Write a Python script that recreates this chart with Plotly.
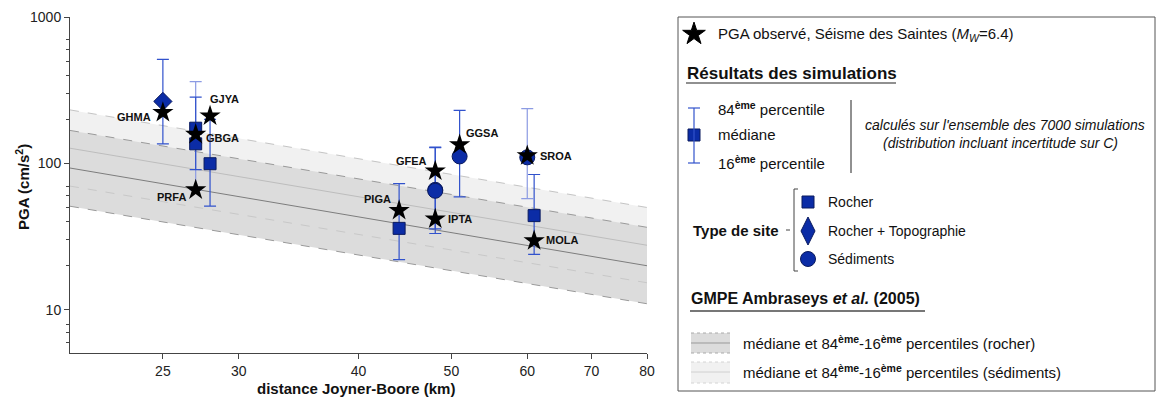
import numpy as np
import plotly.graph_objects as go

W, H = 1158, 398
PL, PR, PT, PB = 70, 647, 17, 353  # plot area in pixels

# ---------------- data ----------------
# GMPE Ambraseys et al. (2005): values read at both ends of the distance range
gmpe_dist = [20, 80]
rock_p84 = [168, 36.6]
rock_med = [93, 20.0]
rock_p16 = [51, 11.0]
sed_p84 = [232, 50.0]
sed_med = [127, 27.6]
sed_p16 = [70, 15.3]

# Observed PGA (Séisme des Saintes)
obs_station = ["GHMA", "GBGA", "PRFA", "GJYA", "PIGA", "GFEA", "IPTA", "GGSA", "SROA", "MOLA"]
obs_dist = [25.0, 27.05, 27.05, 28.0, 44.1, 48.1, 48.1, 51.0, 60.0, 61.0]
obs_pga = [223, 158, 66, 211, 47.8, 88.7, 41.8, 134, 113, 29.7]

# Simulation results (median, 84th, 16th percentiles)
sim_station = ["GHMA", "GBGA", "PRFA", "GJYA", "PIGA", "GFEA", "IPTA", "GGSA", "SROA", "MOLA"]
sim_dist = [25.0, 27.05, 27.05, 28.0, 44.1, 48.1, 48.1, 51.0, 60.0, 61.0]
sim_site = ["RT", "R", "R", "R", "R", "S", "S", "S", "S", "R"]
sim_med = [265, 174, 136, 99.5, 36, 66, 65, 111.6, 110, 44]
sim_p84 = [514, 362, 284, 200, 72.7, 129, 128, 230, 237, 84]
sim_p16 = [136, 66, 90.6, 51, 22, 35.7, 33.2, 59, 57.5, 23.9]
sim_light = [False, True, False, False, False, False, False, False, True, False]

x_ticks = [25, 30, 40, 50, 60, 70, 80]
y_ticks = [10, 100, 1000]
y_minor = [6, 7, 8, 20, 30, 40, 50, 60, 70, 200, 300, 400, 500, 600, 700]

# ---------------- styles ----------------
FONT = "Liberation Sans, Arial, sans-serif"
BLUE_FILL = "#0b2ca6"
BLUE_EDGE = "#0a1a5e"
ERR_DARK = "#3152cc"
ERR_LIGHT = "#8c9be3"
DARK_BAND = "#dcdcdc"
LIGHT_BAND = "#f1f1f1"

fig = go.Figure()

# GMPE sediment band
fig.add_trace(go.Scatter(x=gmpe_dist, y=sed_p84, mode="lines",
                         line=dict(color="#c4c4c4", width=1, dash="dash"), showlegend=False))
fig.add_trace(go.Scatter(x=gmpe_dist, y=sed_p16, mode="lines", fill="tonexty",
                         fillcolor=LIGHT_BAND, line=dict(color="rgba(0,0,0,0)", width=0), showlegend=False))
# GMPE rock band
fig.add_trace(go.Scatter(x=gmpe_dist, y=rock_p84, mode="lines",
                         line=dict(color="#9a9a9a", width=1, dash="dash"), showlegend=False))
fig.add_trace(go.Scatter(x=gmpe_dist, y=rock_p16, mode="lines", fill="tonexty",
                         fillcolor=DARK_BAND, line=dict(color="#9a9a9a", width=1, dash="dash"),
                         showlegend=False))
# sediment lines over rock band
fig.add_trace(go.Scatter(x=gmpe_dist, y=sed_med, mode="lines",
                         line=dict(color="#bdbdbd", width=1), showlegend=False))
fig.add_trace(go.Scatter(x=gmpe_dist, y=sed_p16, mode="lines",
                         line=dict(color="#c8c8c8", width=1, dash="dash"), showlegend=False))
# rock median
fig.add_trace(go.Scatter(x=gmpe_dist, y=rock_med, mode="lines",
                         line=dict(color="#7d7d7d", width=1), showlegend=False))

# error bars (simulations)
for light in (True, False):
    idx = [i for i in range(len(sim_med)) if sim_light[i] == light]
    fig.add_trace(go.Scatter(
        x=[sim_dist[i] for i in idx], y=[sim_med[i] for i in idx], mode="markers",
        marker=dict(size=1, opacity=0),
        error_y=dict(type="data", symmetric=False,
                     array=[sim_p84[i] - sim_med[i] for i in idx],
                     arrayminus=[sim_med[i] - sim_p16[i] for i in idx],
                     color=ERR_LIGHT if light else ERR_DARK, thickness=1.2, width=6),
        showlegend=False, hoverinfo="skip"))

# simulation medians by site type
symbols = {"R": ("square", 12), "RT": ("diamond", 14), "S": ("circle", 15)}
for site, (sym, size) in symbols.items():
    idx = [i for i in range(len(sim_med)) if sim_site[i] == site]
    fig.add_trace(go.Scatter(
        x=[sim_dist[i] for i in idx], y=[sim_med[i] for i in idx], mode="markers",
        marker=dict(symbol=sym, size=size, color=BLUE_FILL, line=dict(color=BLUE_EDGE, width=1)),
        text=[sim_station[i] for i in idx], showlegend=False))

# observed PGA
fig.add_trace(go.Scatter(x=obs_dist, y=obs_pga, mode="markers",
                         marker=dict(symbol="star", size=16, color="black", line=dict(width=0)),
                         text=obs_station, showlegend=False))

# station labels (offsets in pixels relative to the observed star)
label_pos = {
    "GHMA": ("right", -10, -5), "GBGA": ("left", 8, -4), "PRFA": ("right", -8, -7),
    "GJYA": ("left", -2, 17), "PIGA": ("right", -6, 11), "GFEA": ("right", -6, 10),
    "IPTA": ("left", 11, 0), "GGSA": ("left", 4, 12), "SROA": ("left", 11, 0),
    "MOLA": ("left", 10, 1),
}
for s, d, v in zip(obs_station, obs_dist, obs_pga):
    anc, dx, dy = label_pos[s]
    fig.add_annotation(x=np.log10(d), y=np.log10(v), xref="x", yref="y", text=f"<b>{s}</b>",
                       showarrow=False, xanchor=anc, yanchor="middle", xshift=dx, yshift=dy,
                       font=dict(family=FONT, size=11, color="#111"))

# ---------------- layout ----------------
fig.update_layout(
    width=W, height=H, margin=dict(l=0, r=0, t=0, b=0),
    paper_bgcolor="white", plot_bgcolor="rgba(0,0,0,0)",
    font=dict(family=FONT, color="#222"),
    showlegend=False,
    xaxis=dict(type="log", range=[np.log10(20), np.log10(80)], domain=[PL / W, PR / W],
               anchor="y", tickvals=x_ticks, ticktext=[str(t) for t in x_ticks],
               ticks="outside", ticklen=5, tickcolor="#444", showline=True, linecolor="#444",
               linewidth=1, showgrid=False, zeroline=False, automargin=False,
               tickfont=dict(family=FONT, size=14, color="#222")),
    yaxis=dict(type="log", range=[np.log10(5.07), 3], domain=[(H - PB) / H, (H - PT) / H],
               anchor="x", tickvals=y_ticks, ticktext=[str(t) for t in y_ticks],
               ticks="outside", ticklen=5, tickcolor="#444", showline=True, linecolor="#444",
               linewidth=1, showgrid=False, zeroline=False, automargin=False,
               tickfont=dict(family=FONT, size=14, color="#222"),
               minor=dict(tickvals=y_minor, ticks="outside", ticklen=3, tickcolor="#444")),
    xaxis2=dict(domain=[0, 1], range=[0, W], anchor="y2", visible=False, fixedrange=True),
    yaxis2=dict(domain=[0, 1], range=[H, 0], anchor="x2", visible=False, fixedrange=True),
)

def pa(x, y, text, size=15, anchor="left", **kw):
    fig.add_annotation(x=x, y=y, xref="x2", yref="y2", text=text, showarrow=False,
                       xanchor=anchor, yanchor="middle",
                       font=dict(family=FONT, size=size, color=kw.pop("color", "#111")), **kw)

def pline(x0, y0, x1, y1, color="#111", width=1, dash="solid"):
    fig.add_shape(type="line", xref="x2", yref="y2", x0=x0, y0=y0, x1=x1, y1=y1,
                  line=dict(color=color, width=width, dash=dash))

def pmark(x, y, symbol, size, color=BLUE_FILL, edge=BLUE_EDGE):
    fig.add_trace(go.Scatter(x=[x], y=[y], xaxis="x2", yaxis="y2", mode="markers",
                             marker=dict(symbol=symbol, size=size, color=color, opacity=1,
                                         line=dict(color=edge, width=1)),
                             hoverinfo="skip", showlegend=False))

# axis titles
pa(22, 187, "<b>PGA (cm/s<sup>2</sup>)</b>", size=15, anchor="center", textangle=-90)
pa(356, 388, "<b>distance Joyner-Boore (km)</b>", size=15, anchor="center")

# legend box
fig.add_shape(type="rect", xref="x2", yref="y2", x0=678, y0=17, x1=1155, y1=391,
              line=dict(color="#555", width=1), fillcolor="rgba(0,0,0,0)")

# legend glyphs
pmark(694, 34, "star", 17, color="black", edge="black")
pa(716, 34, "PGA observé, Séisme des Saintes (<i>M</i><sub><i>W</i></sub>=6.4)")

pa(685, 73, "<b>Résultats des simulations</b>", size=17)
pline(686, 83, 896, 83, color="#222", width=1.2)

pline(694, 108, 694, 163, color=ERR_DARK, width=1.2)
pline(688, 108, 700, 108, color=ERR_DARK, width=1.2)
pline(688, 163, 700, 163, color=ERR_DARK, width=1.2)
pmark(694, 135, "square", 12)
pa(716, 108, "84<sup><b>ème</b></sup> percentile")
pa(716, 134, "médiane")
pa(716, 162, "16<sup><b>ème</b></sup> percentile")
pline(851, 100, 851, 173, color="#222", width=1)
pa(863, 125, "<i>calculés sur l'ensemble des 7000 simulations</i>", size=14)
pa(881, 143, "<i>(distribution incluant incertitude sur C)</i>", size=14)

pa(691, 230, "<b>Type de site</b>")
pline(786, 230, 790, 230, color="#444")
pline(794, 189, 794, 271, color="#444")
pline(794, 189, 798, 189, color="#444")
pline(794, 271, 798, 271, color="#444")
pmark(808, 202, "square", 12)
pmark(808, 231, "diamond-tall", 20)
pmark(808, 259, "circle", 15)
pa(826, 202, "Rocher", size=14)
pa(826, 231, "Rocher + Topographie", size=14)
pa(826, 259, "Sédiments", size=14)

pa(689, 298, "<b>GMPE Ambraseys <i>et al.</i> (2005)</b>", size=16)
pline(690, 311, 925, 311, color="#777", width=2)

# GMPE swatches
fig.add_shape(type="rect", xref="x2", yref="y2", x0=691, y0=333, x1=730, y1=353,
              fillcolor=DARK_BAND, line=dict(width=0))
pline(691, 333, 730, 333, color="#aaa", dash="dot")
pline(691, 353, 730, 353, color="#aaa", dash="dot")
pline(691, 343, 730, 343, color="#999")
fig.add_shape(type="rect", xref="x2", yref="y2", x0=691, y0=362, x1=730, y1=383,
              fillcolor=LIGHT_BAND, line=dict(width=0))
pline(691, 362, 730, 362, color="#d4d4d4", dash="dot")
pline(691, 383, 730, 383, color="#d4d4d4", dash="dot")
pline(691, 372, 730, 372, color="#d0d0d0")
pa(741, 342, "médiane et 84<sup><b>ème</b></sup>-16<sup><b>ème</b></sup> percentiles (rocher)")
pa(741, 371, "médiane et 84<sup><b>ème</b></sup>-16<sup><b>ème</b></sup> percentiles (sédiments)")

# remove the browser's default 8px body margin so the figure sits at the page origin
fig.write_html("out.html", config={"displayModeBar": False},
               post_script="document.body.style.margin='0px';")
